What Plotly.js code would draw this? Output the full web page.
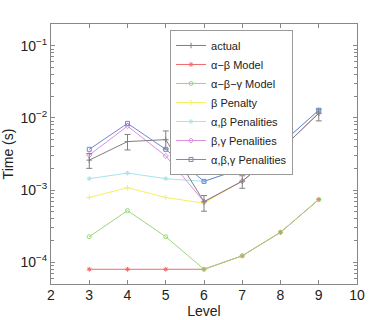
<!DOCTYPE html>
<html>
<head>
<meta charset="utf-8">
<script src="https://cdn.plot.ly/plotly-3.0.1.min.js"></script>
<style>html,body{margin:0;padding:0;background:#fff;}#chart{width:374px;height:320px;}</style>
</head>
<body>
<div id="chart"></div>
<script>
var levels = [3, 4, 5, 6, 7, 8, 9];

var actual = [2.6e-3, 4.7e-3, 5.0e-3, 6.9e-4, 1.33e-3, 3.6e-3, 1.16e-2];
var actualErrPlus = [0.6e-3, 1.2e-3, 1.6e-3, 1.5e-4, 0.25e-3, 0.7e-3, 0.16e-2];
var actualErrMinus = [0.6e-3, 1.1e-3, 1.3e-3, 1.8e-4, 0.27e-3, 0.63e-3, 0.25e-2];

var abModel = [8.0e-5, 8.0e-5, 8.0e-5, 8.0e-5, 1.23e-4, 2.6e-4, 7.4e-4];
var abgModel = [2.26e-4, 5.2e-4, 2.26e-4, 8.0e-5, 1.23e-4, 2.6e-4, 7.4e-4];
var bPenalty = [7.9e-4, 1.08e-3, 7.9e-4, 6.6e-4, 1.33e-3, 3.6e-3, 1.17e-2];
var abPenalties = [1.44e-3, 1.72e-3, 1.44e-3, 1.32e-3, 2.0e-3, 4.3e-3, 1.28e-2];
var bgPenalties = [3.06e-3, 7.7e-3, 2.97e-3, 6.9e-4, 1.33e-3, 3.6e-3, 1.17e-2];
var abgPenalties = [3.67e-3, 8.4e-3, 3.67e-3, 1.32e-3, 2.0e-3, 4.3e-3, 1.28e-2];

var yTickVals = [1e-4, 1e-3, 1e-2, 1e-1];
var yTickText = ['10<sup>−4</sup>', '10<sup>−3</sup>', '10<sup>−2</sup>', '10<sup>−1</sup>'];

var names = ['actual', 'α−β Model', 'α−β−γ Model', 'β Penalty', 'α,β Penalities', 'β,γ Penalities', 'α,β,γ Penalities'];
var series = [actual, abModel, abgModel, bPenalty, abPenalties, bgPenalties, abgPenalties];
var colors = ['#808080', '#f06a6a', '#9ad87a', '#f4f060', '#a6e4ee', '#de90de', '#6f88d2'];
var symbols = ['cross-thin-open', 'asterisk-open', 'circle-open', 'cross-thin-open', 'asterisk-open', 'diamond-open', 'square-open'];

// minor tick positions (2..9 in each decade)
var minorVals = [];
for (var d = -5; d <= -1; d++) {
  for (var m = 2; m <= 9; m++) minorVals.push(m * Math.pow(10, d));
}

var traces = series.map(function (s, i) {
  var t = {
    x: levels, y: s, name: names[i], type: 'scatter', mode: 'lines+markers',
    line: {color: colors[i], width: 1},
    marker: {symbol: symbols[i], size: 4, color: colors[i], line: {color: colors[i], width: 1}}
  };
  if (i === 0) {
    t.error_y = {type: 'data', symmetric: false, array: actualErrPlus, arrayminus: actualErrMinus,
      color: '#808080', thickness: 1, width: 3};
  }
  return t;
});
traces = traces.slice(1).concat([traces[0]]);
traces[6].legendrank = 1;

var ff = 'Liberation Sans, Arial, Helvetica, sans-serif';

var layout = {
  width: 374, height: 320,
  margin: {l: 51, r: 17, t: 24, b: 36},
  paper_bgcolor: '#fff', plot_bgcolor: '#fff',
  font: {family: ff, size: 14, color: '#222'},
  showlegend: true,
  legend: {
    x: 0.389, y: 0.977, xanchor: 'left', yanchor: 'top',
    bgcolor: '#fff', bordercolor: '#999', borderwidth: 1,
    font: {family: ff, size: 11, color: '#222'},
    tracegroupgap: 0, itemwidth: 30, traceorder: 'normal'
  },
  xaxis: {
    range: [2, 10], dtick: 1, tick0: 2,
    ticks: 'inside', ticklen: 4, tickcolor: '#888',
    ticklabelstandoff: -2,
    showline: true, linecolor: '#888', linewidth: 1, mirror: 'ticks',
    showgrid: false, zeroline: false,
    tickfont: {family: ff, size: 14, color: '#222'},
    title: {text: 'Level', font: {family: ff, size: 14, color: '#222'}, standoff: 0}
  },
  yaxis: {
    type: 'log', range: [Math.log10(5e-5), Math.log10(0.2)],
    tickmode: 'array', tickvals: yTickVals, ticktext: yTickText,
    ticks: 'inside', ticklen: 4, tickcolor: '#888',
    minor: {tickmode: 'array', tickvals: minorVals, ticks: 'inside', ticklen: 3, tickcolor: '#888', tickwidth: 1, showgrid: false},
    showline: true, linecolor: '#888', linewidth: 1, mirror: 'ticks',
    showgrid: false, zeroline: false,
    tickfont: {family: ff, size: 14, color: '#222'},
    title: {text: 'Time (s)', font: {family: ff, size: 14, color: '#222'}, standoff: 6}
  }
};

Plotly.newPlot('chart', traces, layout, {displayModeBar: false, staticPlot: true});
</script>
</body>
</html>
